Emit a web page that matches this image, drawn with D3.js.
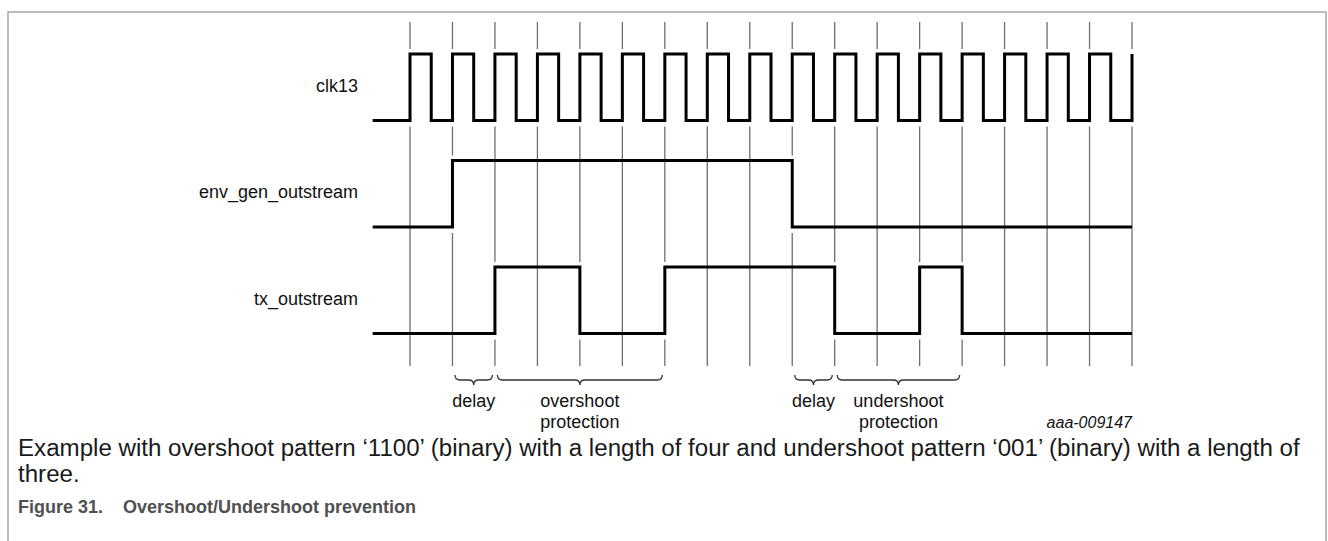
<!DOCTYPE html>
<html>
<head>
<meta charset="utf-8">
<script src="https://cdn.jsdelivr.net/npm/d3@7"></script>
<style>
  body { margin: 0; background: #fff; }
  svg { display: block; }
  text { font-family: "Liberation Sans", Arial, sans-serif; }
</style>
</head>
<body>
<svg width="1328" height="541"></svg>
<script>
// signal names (top to bottom)
const signals = ["clk13", "env_gen_outstream", "tx_outstream"];

// clk13 as half-cycle levels, 17 cycles, then a last rising edge
const clk13 = [1,0, 1,0, 1,0, 1,0, 1,0, 1,0, 1,0, 1,0, 1,0, 1,0, 1,0, 1,0, 1,0, 1,0, 1,0, 1,0, 1,0];
const clkLast = 1;

// one value per clock cycle
const envGenOutstream = [0, 1, 1, 1, 1, 1, 1, 1, 1, 0, 0, 0, 0, 0, 0, 0, 0];
const txOutstream     = [0, 0, 1, 1, 0, 0, 1, 1, 1, 1, 0, 0, 1, 0, 0, 0, 0];

// level before the first clock edge
const startTime = -0.88;
const startLevel = 0;

// braces under the waveforms (in clock cycles)
const braceStart = [1, 2, 9, 10];
const braceEnd   = [2, 6, 10, 13];
const braceText  = [["delay"], ["overshoot", "protection"], ["delay"], ["undershoot", "protection"]];

const figId = "aaa-009147";
const captionLines = [
  "Example with overshoot pattern \u20181100\u2019 (binary) with a length of four and undershoot pattern \u2018001\u2019 (binary) with a length of",
  "three."
];
const figNumber = "Figure 31.";
const figTitle = "Overshoot/Undershoot prevention";

const nCycles = envGenOutstream.length;

const svg = d3.select("svg");

// escalas
const x = d3.scaleLinear().domain([0, nCycles]).range([410, 1132]);
const rowTop = d3.scalePoint().domain(signals).range([54, 267]);
const level = d3.scaleLinear().domain([0, 1]).range([66.5, 0]);

// frame
svg.append("path")
  .attr("d", "M8,541 L8,12 L1326,12 L1326,541")
  .attr("fill", "none")
  .attr("stroke", "#a6a6a6")
  .attr("stroke-width", 1.5);

// build step points for each signal
function cyclePoints(bits) {
  const pts = [[startTime, startLevel]];
  bits.forEach((b, i) => pts.push([i, b]));
  pts.push([nCycles, bits[bits.length - 1]]);
  return pts;
}
const clkPts = [[startTime, startLevel]];
clk13.forEach((b, h) => clkPts.push([h / 2, b]));
clkPts.push([nCycles, clkLast]);

const waves = [
  { name: signals[0], pts: clkPts },
  { name: signals[1], pts: cyclePoints(envGenOutstream) },
  { name: signals[2], pts: cyclePoints(txOutstream) }
];

// does the signal change at integer time t?
function changesAt(pts, t) {
  for (let k = 1; k < pts.length; k++) {
    if (pts[k][0] === t && pts[k][1] !== pts[k - 1][1]) return true;
  }
  return false;
}

// vertical clock guide lines, with gaps where a signal switches
const gridTop = 22, gridBottom = 366;
d3.range(nCycles + 1).forEach(t => {
  const gaps = waves.filter(w => changesAt(w.pts, t))
    .map(w => [rowTop(w.name) + level(1) - 5, rowTop(w.name) + level(0) + 6]);
  let y = gridTop;
  const segs = [];
  gaps.forEach(g => { segs.push([y, g[0]]); y = g[1]; });
  segs.push([y, gridBottom]);
  svg.selectAll(null).data(segs).enter().append("line")
    .attr("x1", x(t)).attr("x2", x(t))
    .attr("y1", d => d[0]).attr("y2", d => d[1])
    .attr("stroke", "#6e6e6e")
    .attr("stroke-width", 1.3);
});

// waveforms
waves.forEach(w => {
  const line = d3.line()
    .x(d => x(d[0]))
    .y(d => rowTop(w.name) + level(d[1]))
    .curve(d3.curveStepAfter);
  svg.append("path")
    .attr("d", line(w.pts))
    .attr("fill", "none")
    .attr("stroke", "#000")
    .attr("stroke-width", 3)
    .attr("stroke-linejoin", "miter");
});

// signal names
svg.selectAll(".sigName").data(signals).enter().append("text")
  .attr("class", "sigName")
  .attr("x", 358)
  .attr("y", d => rowTop(d) + level(0.5) + 4.5)
  .attr("text-anchor", "end")
  .style("font-size", "18px")
  .style("fill", "#111")
  .text(d => d);

// braces
const by0 = 375, bym = 380, byt = 385, r = 5;
braceStart.forEach((s, i) => {
  const x0 = x(s) + 2.5, x1 = x(braceEnd[i]) - 2.5, m = (x0 + x1) / 2;
  svg.append("path")
    .attr("d", `M${x0},${by0} Q${x0},${bym} ${x0 + r},${bym} L${m - r},${bym} Q${m},${bym} ${m},${byt} Q${m},${bym} ${m + r},${bym} L${x1 - r},${bym} Q${x1},${bym} ${x1},${by0}`)
    .attr("fill", "none")
    .attr("stroke", "#333")
    .attr("stroke-width", 1.3);
  braceText[i].forEach((t, j) => {
    svg.append("text")
      .attr("x", m)
      .attr("y", 406.5 + j * 21.5)
      .attr("text-anchor", "middle")
      .style("font-size", "18px")
      .style("fill", "#111")
      .text(t);
  });
});

// figure id
svg.append("text")
  .attr("x", 1132)
  .attr("y", 428)
  .attr("text-anchor", "end")
  .style("font-size", "16px")
  .style("font-style", "italic")
  .style("fill", "#111")
  .text(figId);

// caption, sized so the first line fills the frame width
const cap = svg.append("text")
  .attr("x", 18).attr("y", 456)
  .style("font-size", "100px")
  .style("fill", "#1a1a1a")
  .text(captionLines[0]);
const capSize = 100 * 1282 / cap.node().getComputedTextLength();
cap.style("font-size", capSize + "px");
svg.append("text")
  .attr("x", 18).attr("y", 482)
  .style("font-size", capSize + "px")
  .style("fill", "#1a1a1a")
  .text(captionLines[1]);

const fig = svg.append("text")
  .attr("x", 18).attr("y", 513)
  .style("font-size", "18px")
  .style("font-weight", "bold")
  .style("fill", "#505050")
  .text(figNumber);
svg.append("text")
  .attr("x", 18 + fig.node().getComputedTextLength() + 20).attr("y", 513)
  .style("font-size", "18px")
  .style("font-weight", "bold")
  .style("fill", "#505050")
  .text(figTitle);
</script>
</body>
</html>
